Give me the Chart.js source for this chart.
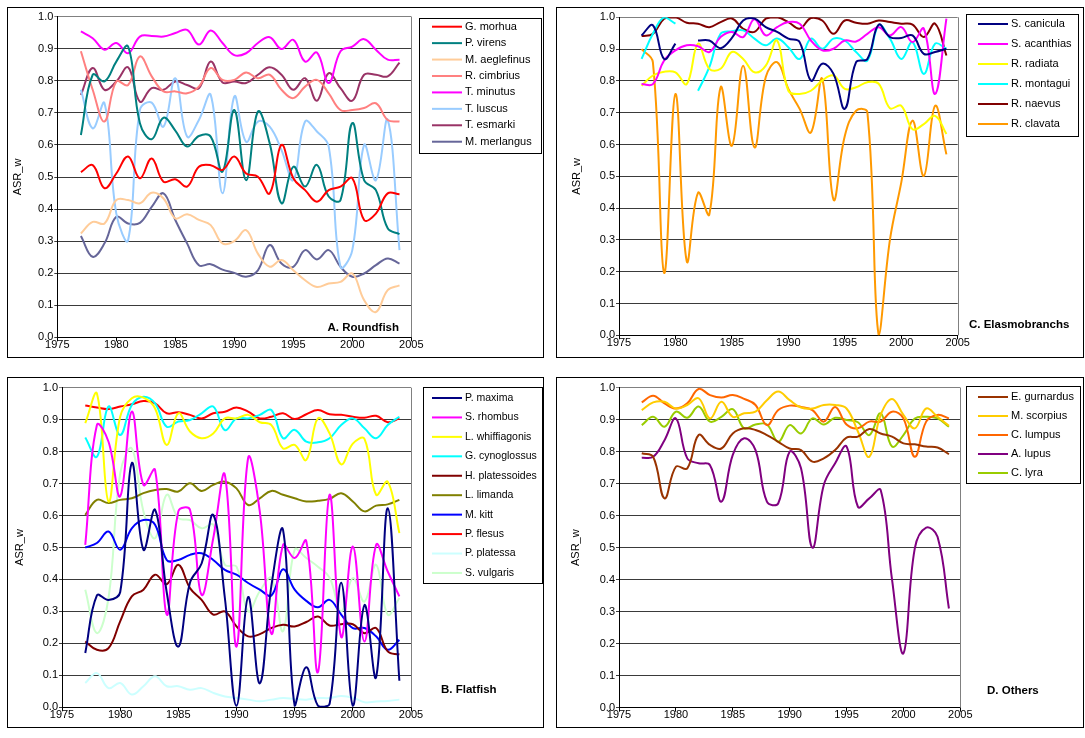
<!DOCTYPE html>
<html>
<head>
<meta charset="utf-8">
<script src="https://cdn.jsdelivr.net/npm/chart.js@4"></script>
<style>
body { margin: 0; background: #fff; width: 1085px; height: 738px; position: relative; overflow: hidden; }
.panel { position: absolute; border: 1px solid #000; }
canvas { display: block; }
</style>
</head>
<body>
<div class="panel" style="left:7px;top:7px"><canvas id="cA" width="535" height="349"></canvas></div>
<div class="panel" style="left:556px;top:7px"><canvas id="cC" width="526" height="349"></canvas></div>
<div class="panel" style="left:7px;top:377px"><canvas id="cB" width="535" height="349"></canvas></div>
<div class="panel" style="left:556px;top:377px"><canvas id="cD" width="526" height="349"></canvas></div>

<script>
// ===== datos =====
const years = [1977,1978,1979,1980,1981,1982,1983,1984,1985,1986,1987,1988,1989,1990,
               1991,1992,1993,1994,1995,1996,1997,1998,1999,2000,2001,2002,2003,2004];

// A. Roundfish
const morhua     = [0.515,0.537,0.465,0.511,0.564,0.496,0.558,0.485,0.493,0.470,0.532,0.537,0.522,0.564,0.511,0.501,0.449,0.600,0.496,0.459,0.423,0.459,0.470,0.496,0.366,0.386,0.449,0.446];
const virens     = [0.631,0.819,0.798,0.860,0.907,0.668,0.618,0.685,0.645,0.595,0.628,0.626,0.517,0.709,0.490,0.704,0.605,0.418,0.532,0.470,0.538,0.439,0.428,0.668,0.490,0.459,0.340,0.322];
const aeglefinus = [0.324,0.360,0.355,0.428,0.428,0.418,0.451,0.433,0.371,0.384,0.366,0.350,0.293,0.300,0.334,0.261,0.220,0.241,0.209,0.178,0.157,0.168,0.173,0.199,0.116,0.079,0.147,0.162];
const cimbrius   = [0.892,0.772,0.673,0.798,0.787,0.876,0.814,0.767,0.767,0.761,0.782,0.840,0.803,0.803,0.826,0.808,0.819,0.772,0.746,0.782,0.803,0.761,0.709,0.709,0.715,0.730,0.678,0.673];
const minutus    = [0.954,0.933,0.897,0.918,0.886,0.938,0.940,0.938,0.949,0.959,0.913,0.957,0.918,0.880,0.886,0.918,0.936,0.899,0.928,0.860,0.888,0.793,0.892,0.907,0.930,0.897,0.866,0.866];
const luscus     = [0.772,0.652,0.730,0.386,0.303,0.709,0.732,0.657,0.808,0.626,0.678,0.756,0.449,0.751,0.610,0.673,0.657,0.584,0.490,0.673,0.642,0.595,0.220,0.272,0.600,0.490,0.678,0.272];
const esmarki    = [0.756,0.840,0.772,0.798,0.842,0.735,0.777,0.772,0.798,0.787,0.777,0.860,0.795,0.798,0.793,0.819,0.842,0.819,0.772,0.808,0.738,0.824,0.777,0.738,0.819,0.819,0.814,0.857];
const merlangus  = [0.316,0.251,0.293,0.376,0.355,0.357,0.407,0.449,0.366,0.293,0.225,0.228,0.211,0.201,0.189,0.209,0.288,0.230,0.220,0.272,0.243,0.272,0.220,0.189,0.199,0.225,0.246,0.230];

// C. Elasmobranchs (null = sin dato)
const canicula   = [0.943,0.975,0.869,0.917,null,0.927,0.927,0.903,0.935,0.990,0.996,0.969,0.954,0.933,0.922,0.801,0.854,0.822,0.712,0.859,0.869,0.977,0.938,0.935,0.943,0.885,0.891,0.901];
const acanthias  = [0.790,0.790,0.864,0.896,0.912,0.909,0.891,0.938,0.954,0.938,0.994,0.943,0.969,0.985,0.980,0.927,0.896,0.901,0.927,0.924,0.948,0.969,0.943,0.969,0.922,0.964,0.759,0.996];
const radiata    = [0.785,0.817,0.829,0.827,0.790,0.917,0.838,0.838,0.891,0.869,0.827,0.848,0.927,0.769,0.759,0.769,0.801,0.817,0.775,0.780,0.796,0.791,0.714,0.722,0.648,0.664,0.690,0.633];
const montagui   = [0.869,0.948,1.000,0.980,null,0.769,0.843,0.948,0.956,0.959,0.933,0.912,0.933,0.906,0.869,0.933,0.901,0.933,0.927,0.891,0.864,0.975,0.933,0.869,0.922,0.822,0.917,0.901];
const naevus     = [0.941,0.948,0.996,1.000,0.983,0.980,0.969,0.985,0.996,0.964,0.954,0.996,1.000,0.985,0.964,0.998,0.990,0.948,0.990,0.983,0.980,0.990,0.985,0.980,0.977,0.938,0.980,0.880];
const clavata    = [0.900,0.859,0.196,0.759,0.233,0.448,0.380,0.780,0.596,0.848,0.591,0.812,0.859,0.775,0.712,0.638,0.806,0.427,0.627,0.706,0.701,0.000,0.301,0.480,0.675,0.501,0.722,0.569];

// B. Flatfish
const maxima       = [0.170,0.350,0.336,0.360,0.764,0.493,0.618,0.360,0.190,0.390,0.450,0.602,0.342,0.005,0.345,0.075,0.380,0.555,0.005,0.125,0.005,0.010,0.390,0.005,0.320,0.094,0.623,0.083];
const rhombus      = [0.508,0.883,0.831,0.660,0.925,0.696,0.743,0.290,0.613,0.618,0.352,0.529,0.727,0.190,0.780,0.613,0.230,0.508,0.467,0.520,0.110,0.665,0.220,0.503,0.206,0.508,0.425,0.347];
const whiffiagonis = [0.889,0.982,0.644,0.909,0.967,0.969,0.935,0.821,0.920,0.863,0.842,0.857,0.904,0.904,0.915,0.892,0.883,0.810,0.821,0.774,0.904,0.857,0.760,0.825,0.840,0.665,0.706,0.545];
const cynoglossus  = [0.844,0.784,0.941,0.852,0.946,0.972,0.951,0.878,0.894,0.899,0.920,0.941,0.867,0.904,0.904,0.915,0.930,0.842,0.868,0.831,0.829,0.842,0.883,0.904,0.873,0.842,0.883,0.909];
const platessoides = [0.206,0.180,0.185,0.269,0.347,0.368,0.415,0.385,0.446,0.373,0.336,0.290,0.300,0.253,0.222,0.229,0.248,0.258,0.253,0.267,0.284,0.256,0.260,0.260,0.232,0.248,0.175,0.165];
const limanda      = [0.602,0.649,0.639,0.649,0.654,0.670,0.680,0.683,0.675,0.701,0.677,0.696,0.706,0.685,0.633,0.654,0.677,0.665,0.654,0.644,0.646,0.652,0.670,0.644,0.613,0.631,0.635,0.649];
const kitt         = [0.500,0.514,0.550,0.493,0.560,0.586,0.571,0.461,0.461,0.477,0.482,0.461,0.430,0.415,0.389,0.368,0.350,0.432,0.368,0.333,0.313,0.336,0.290,0.248,0.248,0.222,0.180,0.211];
const flesus       = [0.944,0.938,0.933,0.941,0.948,0.958,0.951,0.920,0.923,0.915,0.904,0.920,0.925,0.938,0.925,0.904,0.909,0.920,0.902,0.917,0.930,0.917,0.915,0.909,0.906,0.912,0.892,0.904];
const platessa     = [0.076,0.107,0.060,0.076,0.040,0.066,0.097,0.066,0.066,0.055,0.060,0.045,0.034,0.029,0.024,0.019,0.024,0.029,0.026,0.024,0.029,0.029,0.035,0.030,0.016,0.018,0.020,0.024];
const vulgaris     = [0.368,0.232,0.342,0.732,0.810,0.613,0.529,0.665,0.592,0.586,0.560,0.571,0.446,0.440,0.300,0.363,0.404,0.238,0.493,0.467,0.440,0.406,0.300,0.404,0.331,0.446,0.290,0.342];

// D. Others
const gurnardus = [0.795,0.784,0.654,0.753,0.748,0.852,0.821,0.810,0.857,0.873,0.868,0.852,0.831,0.810,0.805,0.769,0.779,0.805,0.844,0.847,0.871,0.857,0.847,0.826,0.823,0.816,0.813,0.792];
const scorpius  = [0.930,0.954,0.956,0.935,0.946,0.967,0.904,0.956,0.909,0.920,0.925,0.961,0.988,0.961,0.938,0.935,0.946,0.946,0.935,0.863,0.784,0.915,0.965,0.915,0.873,0.935,0.909,0.881];
const lumpus    = [0.954,0.975,0.951,0.935,0.951,0.996,0.977,0.969,0.977,0.965,0.946,0.883,0.930,0.944,0.940,0.930,0.894,0.940,0.885,0.873,0.894,0.894,0.925,0.904,0.784,0.894,0.915,0.904];
const lupus     = [0.781,0.784,0.836,0.904,0.779,0.764,0.758,0.644,0.790,0.842,0.805,0.644,0.639,0.800,0.748,0.500,0.696,0.764,0.816,0.628,0.654,0.680,0.400,0.170,0.498,0.563,0.534,0.310];
const lyra      = [0.883,0.909,0.878,0.925,0.906,0.941,0.894,0.909,0.933,0.873,0.885,0.885,0.831,0.883,0.857,0.904,0.885,0.906,0.899,0.892,0.852,0.920,0.816,0.852,0.904,0.909,0.904,0.878];

// ===== plugins =====
const FONT = "'Liberation Sans', Arial, sans-serif";
Chart.defaults.font.family = FONT;
Chart.defaults.font.size = 11;
Chart.defaults.color = '#000';

// leyenda con recuadro, como la de Excel
const boxLegend = {
    id: 'boxLegend',
    afterDraw(chart, args, o) {
        const c = chart.ctx;
        c.save();
        c.strokeStyle = '#000';
        c.lineWidth = 1;
        c.strokeRect(o.x + 0.5, o.y + 0.5, o.w, o.h);
        c.font = o.size + 'px ' + FONT;
        c.textBaseline = 'middle';
        c.fillStyle = '#000';
        chart.data.datasets.forEach((ds, i) => {
            const y = o.row0 + i * o.step;
            c.strokeStyle = ds.borderColor;
            c.lineWidth = 2;
            c.beginPath();
            c.moveTo(o.lx0, y);
            c.lineTo(o.lx1, y);
            c.stroke();
            c.fillText(ds.label, o.tx, y);
        });
        c.restore();
    }
};

// titulo del panel (A. Roundfish ...)
const panelTitle = {
    id: 'panelTitle',
    afterDraw(chart, args, o) {
        const c = chart.ctx;
        c.save();
        c.font = 'bold 11.5px ' + FONT;
        c.fillStyle = '#000';
        c.textAlign = o.align;
        c.textBaseline = 'middle';
        c.fillText(o.text, o.x, o.y);
        c.restore();
    }
};

// borde derecho del area de trazado
const plotFrame = {
    id: 'plotFrame',
    beforeDatasetsDraw(chart) {
        const a = chart.chartArea, c = chart.ctx;
        const x = Math.round(a.right) + 0.5;
        c.save();
        c.strokeStyle = '#808080';
        c.lineWidth = 1;
        c.beginPath();
        c.moveTo(x, a.top);
        c.lineTo(x, a.bottom);
        c.stroke();
        c.restore();
    }
};

// ===== graficos =====
function panel(id, series, lay) {
    new Chart(document.getElementById(id), {
        type: 'line',
        data: {
            datasets: series.map(s => ({
                label: s[0],
                borderColor: s[1],
                backgroundColor: s[1],
                data: years.map((yr, i) => ({ x: yr, y: s[2][i] })),
                borderWidth: 2,
                pointRadius: 0,
                tension: 0.4,
                fill: false,
                spanGaps: false
            }))
        },
        options: {
            responsive: false,
            animation: false,
            events: [],
            layout: { autoPadding: false, padding: { left: lay.padL, top: lay.top, right: lay.padR, bottom: 0 } },
            scales: {
                x: {
                    type: 'linear', min: 1975, max: 2005,
                    ticks: { stepSize: 5, padding: -3, maxRotation: 0, callback: v => String(v) },
                    grid: { drawOnChartArea: false, tickLength: 4, color: '#000' },
                    border: { color: '#000' },
                    afterFit: s => { s.height = lay.xh; s.paddingLeft = 0; s.paddingRight = 0; }
                },
                y: {
                    min: 0, max: 1,
                    ticks: { stepSize: 0.1, padding: 1, callback: v => v.toFixed(1) },
                    grid: { tickLength: 3, color: ctx => (ctx.tick && ctx.tick.value > 0.99) ? '#808080' : '#3a3a3a' },
                    border: { color: '#000' },
                    title: { display: true, text: 'ASR_w', padding: 0, font: { size: 11 } },
                    afterFit: s => { s.width = lay.yw; s.paddingTop = 0; s.paddingBottom = 0; }
                }
            },
            plugins: {
                legend: { display: false },
                tooltip: { enabled: false },
                boxLegend: lay.legend,
                panelTitle: lay.title
            }
        },
        plugins: [plotFrame, boxLegend, panelTitle]
    });
}

panel('cA', [
    ['G. morhua', '#FF0000', morhua],
    ['P. virens', '#008080', virens],
    ['M. aeglefinus', '#FFCC99', aeglefinus],
    ['R. cimbrius', '#FF8080', cimbrius],
    ['T. minutus', '#FF00FF', minutus],
    ['T. luscus', '#99CCFF', luscus],
    ['T. esmarki', '#993366', esmarki],
    ['M. merlangus', '#666699', merlangus]
], {
    padL: 3.4, yw: 45.9, top: 8.7, padR: 131.7, xh: 19.7,
    legend: { x: 411, y: 10, w: 122, h: 135, row0: 18.7, step: 16.43, lx0: 424, lx1: 454, tx: 457, size: 11 },
    title: { text: 'A. Roundfish', x: 391, y: 320, align: 'right' }
});

panel('cC', [
    ['S. canicula', '#000080', canicula],
    ['S. acanthias', '#FF00FF', acanthias],
    ['R. radiata', '#FFFF00', radiata],
    ['R. montagui', '#00FFFF', montagui],
    ['R. naevus', '#800000', naevus],
    ['R. clavata', '#FF9900', clavata]
], {
    padL: 13.4, yw: 48.6, top: 9.3, padR: 125.3, xh: 21.7,
    legend: { x: 409, y: 6, w: 112, h: 122, row0: 16, step: 20, lx0: 421, lx1: 451, tx: 454, size: 11 },
    title: { text: 'C. Elasmobranchs', x: 412, y: 317, align: 'left' }
});

panel('cB', [
    ['P. maxima', '#000080', maxima],
    ['S. rhombus', '#FF00FF', rhombus],
    ['L. whiffiagonis', '#FFFF00', whiffiagonis],
    ['G. cynoglossus', '#00FFFF', cynoglossus],
    ['H. platessoides', '#800000', platessoides],
    ['L. limanda', '#808000', limanda],
    ['M. kitt', '#0000FF', kitt],
    ['P. flesus', '#FF0000', flesus],
    ['P. platessa', '#CCFFFF', platessa],
    ['S. vulgaris', '#CCFFCC', vulgaris]
], {
    padL: 5.4, yw: 48.6, top: 9.7, padR: 132, xh: 19.7,
    legend: { x: 415, y: 9, w: 119, h: 196, row0: 20, step: 19.44, lx0: 424, lx1: 454, tx: 457, size: 10.5 },
    title: { text: 'B. Flatfish', x: 433, y: 312, align: 'left' }
});

panel('cD', [
    ['E. gurnardus', '#993300', gurnardus],
    ['M. scorpius', '#FFCC00', scorpius],
    ['C. lumpus', '#FF6600', lumpus],
    ['A. lupus', '#800080', lupus],
    ['C. lyra', '#99CC00', lyra]
], {
    padL: 12.4, yw: 49.6, top: 9.7, padR: 122.7, xh: 19.3,
    legend: { x: 409, y: 8, w: 114, h: 97, row0: 19, step: 19, lx0: 421, lx1: 451, tx: 454, size: 11 },
    title: { text: 'D. Others', x: 430, y: 313, align: 'left' }
});
</script>
</body>
</html>
